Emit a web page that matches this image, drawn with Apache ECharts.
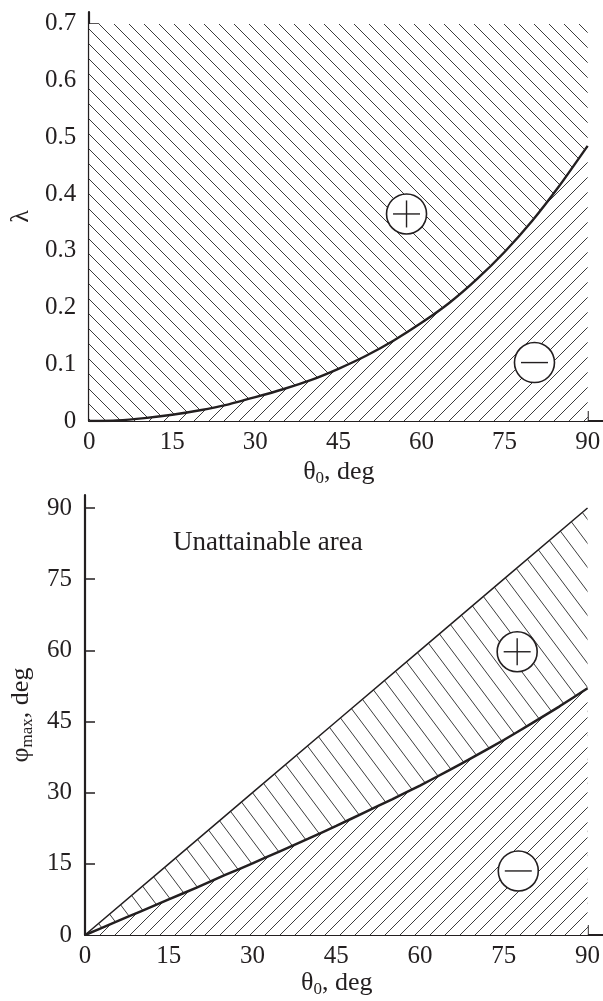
<!DOCTYPE html>
<html>
<head>
<meta charset="utf-8">
<script src="https://cdn.jsdelivr.net/npm/echarts@6/dist/echarts.min.js"></script>
<style>
    html, body { margin: 0; padding: 0; background: #fff; }
    #chart { width: 603px; height: 1001px; }
</style>
</head>
<body>
<div id="chart"></div>
<script>
// upper panel: lambda against theta0
const thetaTop = [0, 5, 10, 15, 20, 25, 30, 35, 40, 45, 50, 55, 60, 65, 70, 75, 80, 85, 90];
const lambdaTop = [0, 0.001, 0.005, 0.011, 0.019, 0.029, 0.042, 0.056, 0.072, 0.092, 0.115, 0.142, 0.173, 0.208, 0.250, 0.298, 0.353, 0.416, 0.485];

// lower panel: phi_max against theta0
const thetaBottom = [0, 15, 30, 45, 60, 75, 90];
const phiLimit = [0, 15, 30, 45, 60, 75, 90];
const thetaCurve = [0, 5, 10, 15, 20, 25, 30, 35, 40, 45, 50, 55, 60, 65, 70, 75, 80, 85, 90];
const phiCurve = [0, 2.5, 5, 7.5, 10, 12.6, 15.1, 17.7, 20.3, 23, 25.8, 28.6, 31.5, 34.6, 37.8, 41.1, 44.6, 48.2, 52];

// ticks
const thetaTicks = [0, 15, 30, 45, 60, 75, 90];
const lambdaTicks = [0, 0.1, 0.2, 0.3, 0.4, 0.5, 0.6, 0.7];
const phiTicks = [0, 15, 30, 45, 60, 75, 90];

// circled signs [theta0, value, sign]
const signsTop = [[57.3, 0.365, 1], [80.4, 0.103, -1]];
const signsBottom = [[77.4, 59.7, 1], [77.6, 13.5, -1]];

const ink = '#231f20';
const serif = '"Liberation Serif", "DejaVu Serif", serif';

/* hatch tile, drawn on a small canvas */
function hatch (w, h, dir) {
    const cv = document.createElement('canvas');
    cv.width = w;
    cv.height = h;
    const ctx = cv.getContext('2d');
    ctx.fillStyle = '#fff';
    ctx.fillRect(0, 0, w, h);
    ctx.strokeStyle = '#3c3c3c';
    ctx.lineWidth = 1;
    ctx.beginPath();
    for (let k = -1; k <= 1; k++) {
        if (dir === 'down') {
            ctx.moveTo(k * w - w, -h);
            ctx.lineTo(k * w + 2 * w, 2 * h);
        } else {
            ctx.moveTo(k * w - w, 2 * h);
            ctx.lineTo(k * w + 2 * w, -h);
        }
    }
    ctx.stroke();
    return { image: cv, repeat: 'repeat' };
}

function zip (xs, ys) {
    return xs.map((x, i) => [x, ys[i]]);
}

function renderSign (params, api) {
    const c = api.coord([api.value(0), api.value(1)]);
    const r = 20, d = 13.5;
    const children = [
        { type: 'circle', shape: { cx: c[0], cy: c[1], r: r }, style: { fill: '#fff', stroke: ink, lineWidth: 1.6 } },
        { type: 'line', shape: { x1: c[0] - d, y1: c[1], x2: c[0] + d, y2: c[1] }, style: { stroke: ink, lineWidth: 1.4 } }
    ];
    if (api.value(2) > 0) {
        children.push({ type: 'line', shape: { x1: c[0], y1: c[1] - d, x2: c[0], y2: c[1] + d }, style: { stroke: ink, lineWidth: 1.4 } });
    }
    return { type: 'group', children: children };
}

const labelStyle = { fontFamily: serif, fontSize: 25, color: ink };
const nameStyle = {
    fontFamily: serif, fontSize: 26, color: ink,
    rich: {
        sub: { fontFamily: serif, fontSize: 17, color: ink, padding: [13, 0, 0, 0] }
    }
};

function xAxis (grid, gap) {
    return {
        type: 'value', gridIndex: grid, min: 0, max: 92.7,
        name: 'θ{sub|0}, deg', nameLocation: 'middle', nameGap: gap,
        nameTextStyle: Object.assign({ padding: [0, 14, 0, 0] }, nameStyle),
        axisLine: { lineStyle: { color: ink, width: 2.2 } },
        axisTick: { inside: true, length: 10, lineStyle: { color: ink, width: 1.5 }, customValues: thetaTicks },
        axisLabel: Object.assign({ margin: 9, customValues: thetaTicks }, labelStyle),
        splitLine: { show: false }
    };
}

function yAxis (grid, max, ticks, name, fmt) {
    return {
        type: 'value', gridIndex: grid, min: 0, max: max,
        name: name, nameLocation: 'middle', nameGap: 49,
        nameTextStyle: nameStyle,
        axisLine: { show: true, lineStyle: { color: ink, width: 2.2 } },
        axisTick: { show: true, inside: true, length: 10, lineStyle: { color: ink, width: 1.5 }, customValues: ticks },
        axisLabel: Object.assign({ margin: 13, customValues: ticks, formatter: fmt }, labelStyle),
        splitLine: { show: false }
    };
}

const chart = echarts.init(document.getElementById('chart'));
chart.setOption({
    animation: false,
    backgroundColor: '#fff',
    grid: [
        { left: 84, right: 0, top: 12, height: 409 },
        { left: 84, right: 0, top: 495, height: 440 }
    ],
    xAxis: [xAxis(0, 36), xAxis(1, 33)],
    yAxis: [
        yAxis(0, 0.721, lambdaTicks, 'λ', v => v === 0 ? '0' : v.toFixed(1)),
        yAxis(1, 92.74, phiTicks, 'φ{sub|max}, deg', v => String(v))
    ],
    graphic: [{
        type: 'text', left: 173, top: 529,
        style: { text: 'Unattainable area', font: '27px "Liberation Serif"', fill: ink }
    }],
    series: [
        /* upper panel */
        {
            type: 'line', xAxisIndex: 0, yAxisIndex: 0, symbol: 'none', smooth: 0.2, silent: true,
            data: zip(thetaTop, lambdaTop),
            lineStyle: { width: 0, opacity: 0 },
            areaStyle: { origin: 0.7, color: hatch(15, 15, 'down'), opacity: 1 }
        },
        {
            type: 'line', xAxisIndex: 0, yAxisIndex: 0, symbol: 'none', smooth: 0.2, silent: true,
            data: zip(thetaTop, lambdaTop),
            lineStyle: { color: ink, width: 2.4 },
            areaStyle: { origin: 'start', color: hatch(15, 15, 'up'), opacity: 1 }
        },
        {
            type: 'custom', xAxisIndex: 0, yAxisIndex: 0, renderItem: renderSign,
            encode: { x: 0, y: 1 }, data: signsTop, z: 5, silent: true
        },
        /* lower panel */
        {
            type: 'line', xAxisIndex: 1, yAxisIndex: 1, symbol: 'none', silent: true,
            data: zip(thetaBottom, phiLimit),
            lineStyle: { color: ink, width: 1.5 },
            areaStyle: { origin: 'start', color: hatch(18, 24, 'down'), opacity: 1 }
        },
        {
            type: 'line', xAxisIndex: 1, yAxisIndex: 1, symbol: 'none', smooth: 0.2, silent: true,
            data: zip(thetaCurve, phiCurve),
            lineStyle: { color: ink, width: 2.5 },
            areaStyle: { origin: 'start', color: hatch(15, 15, 'up'), opacity: 1 }
        },
        {
            type: 'custom', xAxisIndex: 1, yAxisIndex: 1, renderItem: renderSign,
            encode: { x: 0, y: 1 }, data: signsBottom, z: 5, silent: true
        }
    ]
});
</script>
</body>
</html>
